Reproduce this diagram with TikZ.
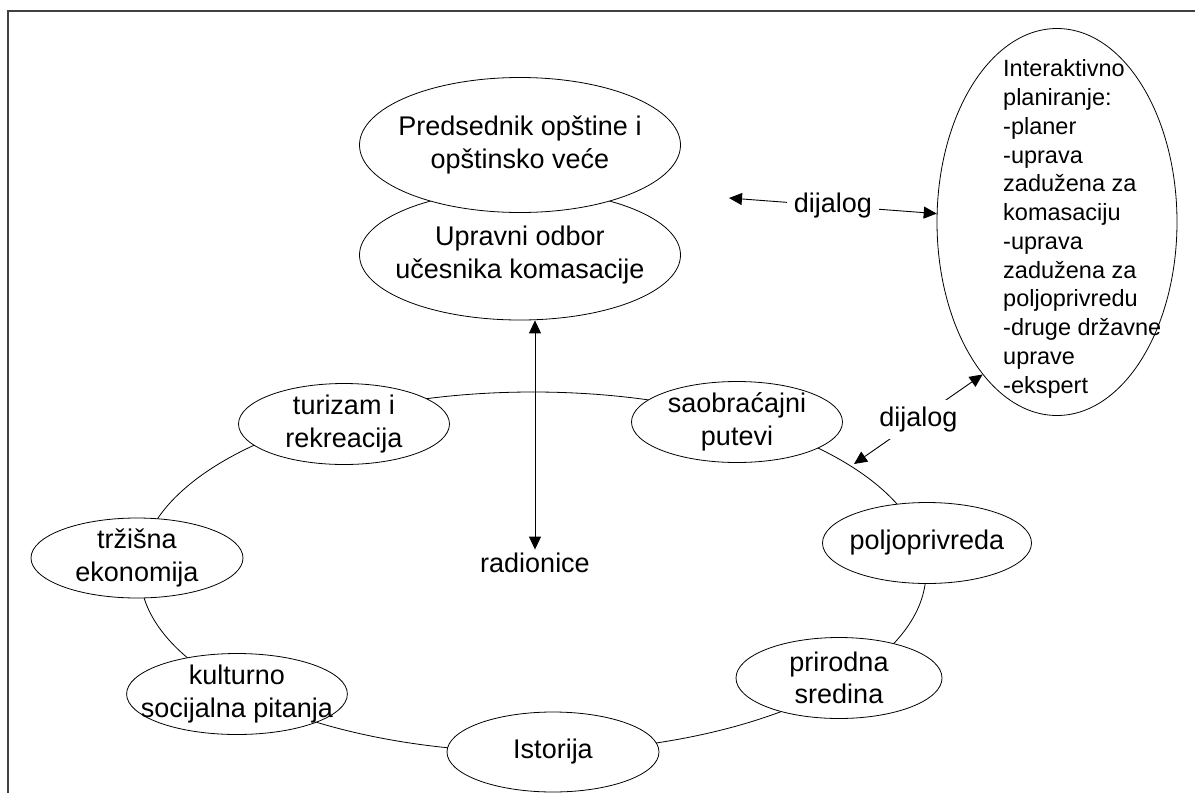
\documentclass[tikz,border=0pt]{standalone}
\usepackage{fontspec}
\setmainfont{Liberation Sans}
\usetikzlibrary{arrows.meta,shapes.geometric}

\begin{document}
\begin{tikzpicture}[x=1pt, y=1pt, yscale=-1, >={Triangle[length=13pt,width=12pt]},
  every node/.style={font=\fontsize{27}{32.5}\selectfont},
  topic/.style={ellipse, draw, fill=white, line width=0.8pt, inner xsep=-18pt, inner ysep=-1pt,
    minimum width=211pt, minimum height=81pt, align=center},
  lbl/.style={fill=white, inner sep=7pt}]
\useasboundingbox (0,0) rectangle (1195,793);
\draw[line width=1.5pt, black!75] (1195,11) -- (8,11) -- (8,793);
\draw[line width=0.8pt] (533,572) ellipse (393 and 180);
\node[topic] (turizam) at (344,424) {turizam i\\rekreacija};
\node[topic, minimum width=212pt, minimum height=80pt] (trzisna) at (137,558) {tržišna\\ekonomija};
\node[topic, minimum width=220pt] (kulturno) at (237,694) {kulturno\\socijalna pitanja};
\node[topic, minimum width=212pt, minimum height=80pt] (istorija) at (553,752) {Istorija};
\node[topic, minimum width=206pt] (prirodna) at (839,678) {prirodna\\sredina};
\node[topic, minimum width=209pt] (poljo) at (927,543) {poljoprivreda};
\node[topic] (saobr) at (737,422) {saobraćajni\\putevi};
\node[topic, minimum width=321pt, minimum height=130pt] (upravni) at (520,255) {Upravni odbor\\učesnika komasacije};
\node[topic, minimum width=321pt, minimum height=135pt] (predsednik) at (520,145) {Predsednik opštine i\\opštinsko veće};
\node (radionice) at (535,563) {radionice};
\draw[<->, line width=0.9pt] (radionice.north) -- (radionice.north |- upravni.south);
\node[ellipse, draw, line width=0.8pt, minimum width=240pt, minimum height=387pt] (plan) at (1057,222) {};
\node[anchor=west, align=left, inner sep=0pt, font=\fontsize{23.5}{28.75}\selectfont] (plantext) at (1003,229)
  {Interaktivno\\planiranje:\\-planer\\-uprava\\zadužena za\\komasaciju\\-uprava\\zadužena za\\poljoprivredu\\-druge državne\\uprave\\-ekspert};
\coordinate (dtop) at (729,198);
\coordinate (dlow) at (854,464);
\draw[<->, line width=0.9pt] (dtop) -- node[lbl] {dijalog} (plan.176);
\draw[<->, line width=0.9pt] (dlow) -- node[lbl] {dijalog} (plan.244);
\end{tikzpicture}
\end{document}
